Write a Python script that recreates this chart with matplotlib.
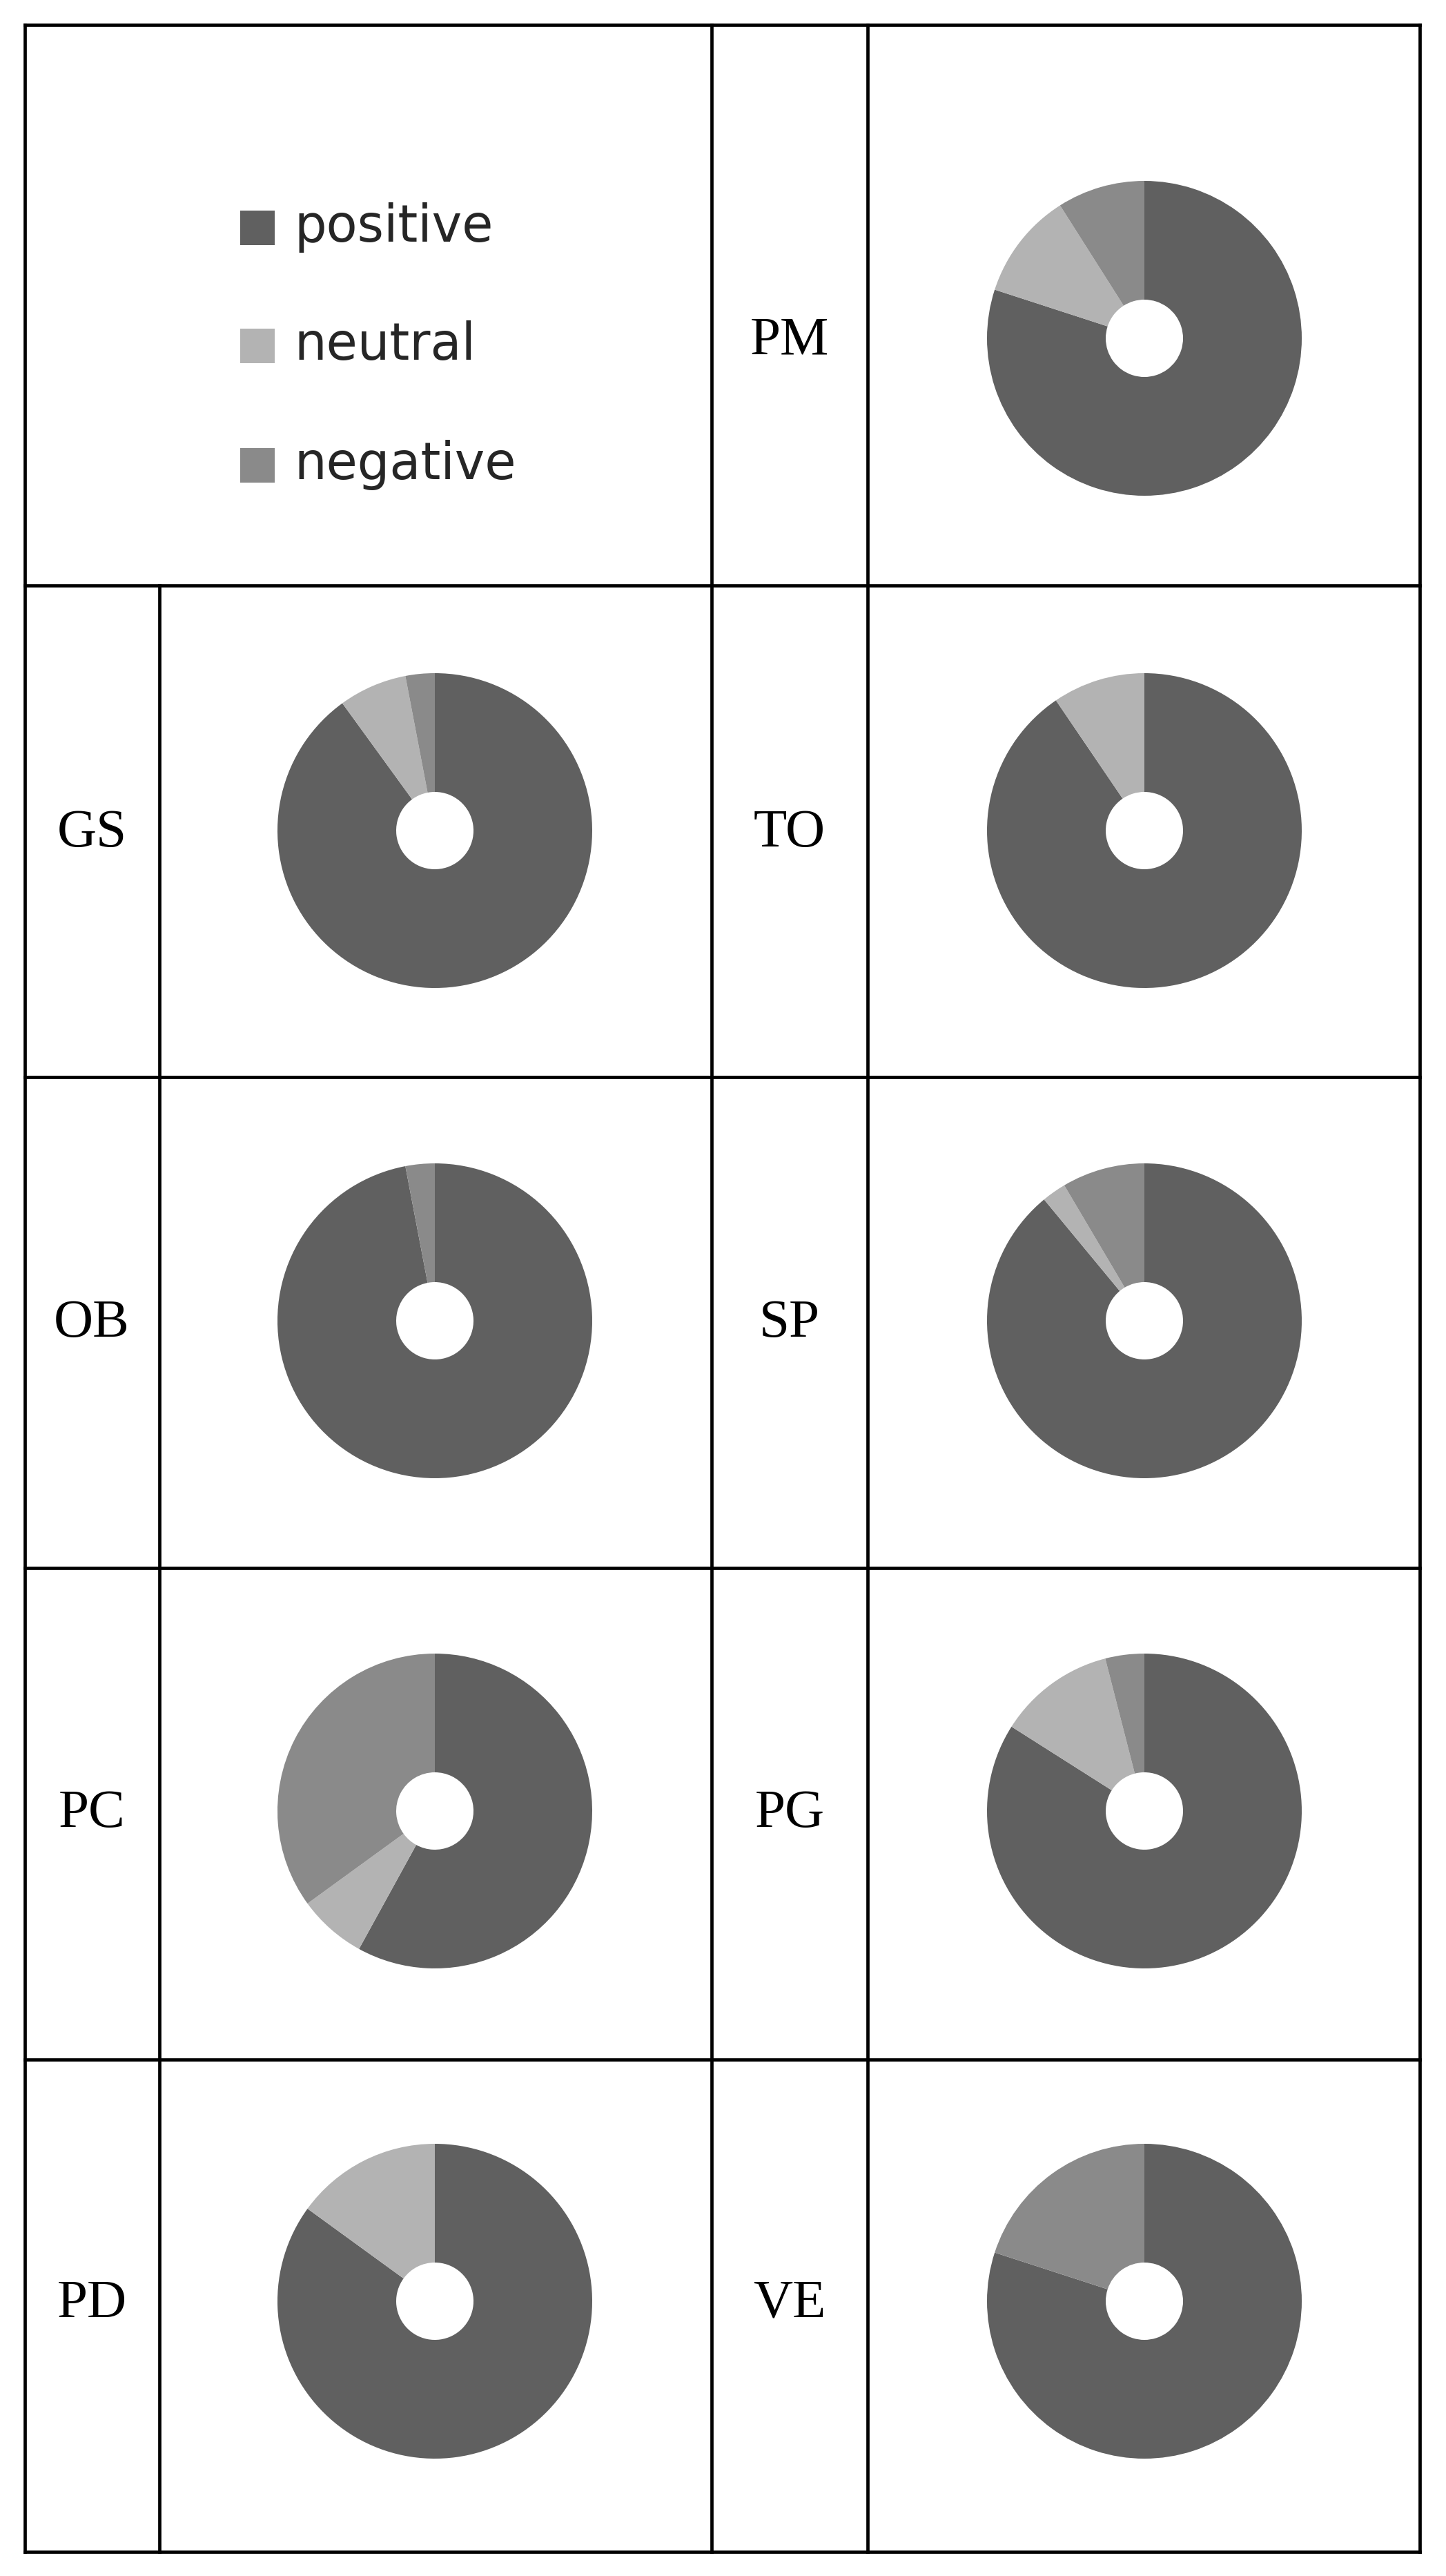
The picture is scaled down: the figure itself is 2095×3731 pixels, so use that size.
import matplotlib
matplotlib.use("Agg")
import matplotlib.pyplot as plt
from matplotlib.patches import Rectangle

# ---- data ----
categories = ["positive", "neutral", "negative"]
colors = ["#606060", "#b3b3b3", "#8a8a8a"]
labels = ["PM", "GS", "TO", "OB", "SP", "PC", "PG", "PD", "VE"]
positive = [80, 90, 90.5, 97, 89, 58, 84, 85, 80]
neutral = [11, 7, 9.5, 0, 2.5, 7, 12, 15, 0]
negative = [9, 3, 0, 3, 8.5, 35, 4, 0, 20]

W, H = 2095, 3731
fig = plt.figure(figsize=(W / 100, H / 100), dpi=100)
ax = fig.add_axes([0, 0, 1, 1])
ax.set_xlim(0, W)
ax.set_ylim(0, H)
ax.axis("off")

def Y(y):
    return H - y

# table geometry (pixel coords, y from top)
x_left, x_in, x_m1, x_m2, x_right = 36, 231, 1031, 1257, 2057
rows = [36, 848, 1560, 2271, 2983, 3696]
lw = 3.4
for y in rows:
    ax.plot([x_left, x_right], [Y(y), Y(y)], color="black", lw=lw, solid_capstyle="projecting")
for x in [x_left, x_m1, x_m2, x_right]:
    ax.plot([x, x], [Y(rows[0]), Y(rows[-1])], color="black", lw=lw, solid_capstyle="projecting")
ax.plot([x_in, x_in], [Y(rows[1]), Y(rows[-1])], color="black", lw=lw)

# positions of each donut and label
R = 228
hole = 56
cell_pos = [
    (1658, 490, 1144),          # PM
    (630, 1203, 133), (1658, 1203, 1144),
    (630, 1913, 133), (1658, 1913, 1144),
    (630, 2623, 133), (1658, 2623, 1144),
    (630, 3333, 133), (1658, 3333, 1144),
]

for i, lab in enumerate(labels):
    cx, cy, lx = cell_pos[i]
    vals = [positive[i], neutral[i], negative[i]]
    ax.pie(vals, colors=colors, center=(cx, Y(cy)), radius=R,
           startangle=90, counterclock=False, frame=True,
           wedgeprops=dict(width=R - hole, linewidth=0))
    ax.text(lx, Y(cy + 4), lab, ha="center", va="center",
            fontsize=57, family="Liberation Serif", color="black")

ax.set_xlim(0, W)
ax.set_ylim(0, H)
ax.set_aspect("auto")
ax.axis("off")

# legend
leg_y = [330, 501, 674]
for name, c, y in zip(categories, colors, leg_y):
    ax.add_patch(Rectangle((348, Y(y + 25)), 50, 50, facecolor=c, edgecolor="none"))
    ax.text(426, Y(y), name, ha="left", va="center", fontsize=53,
            family="DejaVu Sans", color="#262626")

fig.savefig("out.png", dpi=100, facecolor="white")
